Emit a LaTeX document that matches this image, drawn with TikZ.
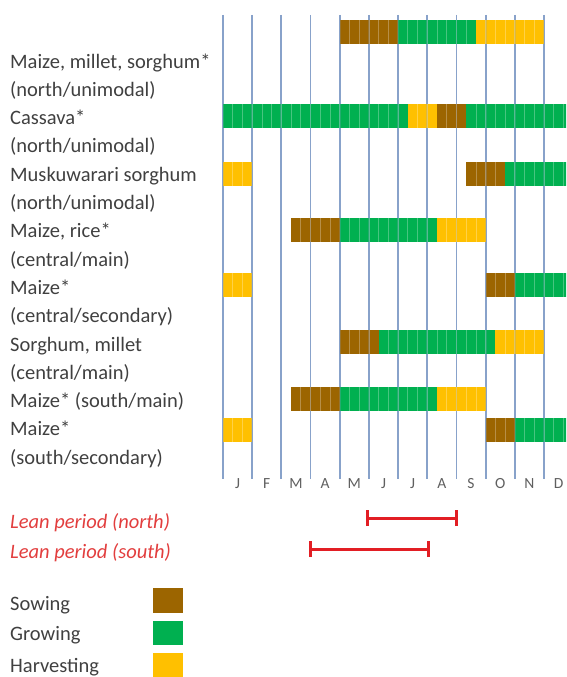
\documentclass[tikz,border=0pt]{standalone}
\usepackage{fontspec}
\setmainfont{Carlito}
\definecolor{csow}{RGB}{156,101,0}
\definecolor{cgrow}{RGB}{0,176,80}
\definecolor{charv}{RGB}{255,192,0}
\definecolor{gridb}{RGB}{136,162,202}
\definecolor{txt}{RGB}{64,64,64}
\definecolor{mon}{RGB}{95,95,95}
\definecolor{leanred}{RGB}{226,30,36}
\definecolor{leantxt}{RGB}{226,62,62}
\newcommand{\dkw}{9.727}
\newcommand{\xorg}{223}
\newcommand{\cropseg}[4]{%
  \fill[fill=#4] ({\xorg+\dkw*#2},#1) rectangle ({\xorg+\dkw*#3},{#1+24});
  \pgfmathtruncatemacro\ka{#2+1}%
  \pgfmathtruncatemacro\kb{#3-1}%
  \foreach \k in {\ka,...,\kb}{\draw[white,opacity=0.28,line width=0.7] ({\xorg+\dkw*\k},#1) -- ({\xorg+\dkw*\k},{#1+24});}%
}
\tikzset{
  lbl/.style={anchor=base west, inner sep=0pt, text=txt, font=\fontsize{20.5}{24}\selectfont},
  mlbl/.style={anchor=base, inner sep=0pt, text=mon, font=\fontsize{15.5}{18}\selectfont},
  leanlbl/.style={anchor=base west, inner sep=0pt, text=leantxt, font=\fontsize{20.5}{24}\selectfont\itshape},
  gridline/.style={draw=gridb, line width=1.8},
  leanbar/.style={draw=leanred, line width=3},
  legbox/.style={minimum width=30pt, minimum height=24.5pt, inner sep=0pt, draw=none},
}
\begin{document}
\begin{tikzpicture}[x=1pt,y=-1pt]
\useasboundingbox (0,0) rectangle (566,677);
\clip (0,0) rectangle (566,677);
% month grid lines
\foreach \m in {0,...,11}{\draw[gridline] ({\xorg+29.18*\m},15) -- ({\xorg+29.18*\m},479);}
% bars
\cropseg{20}{12}{18}{csow}\cropseg{20}{18}{26}{cgrow}\cropseg{20}{26}{33}{charv}
\cropseg{104}{0}{19}{cgrow}\cropseg{104}{19}{22}{charv}\cropseg{104}{22}{25}{csow}\cropseg{104}{25}{37}{cgrow}
\cropseg{162}{0}{3}{charv}\cropseg{162}{25}{29}{csow}\cropseg{162}{29}{37}{cgrow}
\cropseg{218}{7}{12}{csow}\cropseg{218}{12}{22}{cgrow}\cropseg{218}{22}{27}{charv}
\cropseg{273}{0}{3}{charv}\cropseg{273}{27}{30}{csow}\cropseg{273}{30}{37}{cgrow}
\cropseg{330}{12}{16}{csow}\cropseg{330}{16}{28}{cgrow}\cropseg{330}{28}{33}{charv}
\cropseg{387}{7}{12}{csow}\cropseg{387}{12}{22}{cgrow}\cropseg{387}{22}{27}{charv}
\cropseg{418}{0}{3}{charv}\cropseg{418}{27}{30}{csow}\cropseg{418}{30}{37}{cgrow}
% faint grid over bars
\foreach \m in {0,...,11}{\draw[gridline,opacity=0.25] ({\xorg+29.18*\m},15) -- ({\xorg+29.18*\m},479);}
% month labels
\foreach \lab [count=\i from 0] in {J,F,M,A,M,J,J,A,S,O,N,D}{
  \node[mlbl] (m\i) at ({\xorg+29.18*(\i+0.5)},488) {\lab};}
% row labels
\node[lbl] (l1) at (10,68) {Maize, millet, sorghum*};
\node[lbl] (l2) at (10,96.3) {(north/unimodal)};
\node[lbl] (l3) at (10,124.6) {Cassava*};
\node[lbl] (l4) at (10,152.9) {(north/unimodal)};
\node[lbl] (l5) at (10,181.2) {Muskuwarari sorghum};
\node[lbl] (l6) at (10,209.5) {(north/unimodal)};
\node[lbl] (l7) at (10,237.8) {Maize, rice*};
\node[lbl] (l8) at (10,266.1) {(central/main)};
\node[lbl] (l9) at (10,294.4) {Maize*};
\node[lbl] (l10) at (10,322.7) {(central/secondary)};
\node[lbl] (l11) at (10,351) {Sorghum, millet};
\node[lbl] (l12) at (10,379.3) {(central/main)};
\node[lbl] (l13) at (10,407.6) {Maize* (south/main)};
\node[lbl] (l14) at (10,435.9) {Maize*};
\node[lbl] (l15) at (10,464.2) {(south/secondary)};
% lean periods
\node[leanlbl] (ln) at (10,528) {Lean period (north)};
\node[leanlbl] (ls) at (10,558) {Lean period (south)};
\coordinate (n1) at (367,518); \coordinate (n2) at (456,518);
\coordinate (s1) at (310,549); \coordinate (s2) at (428,549);
\draw[leanbar] (n1) -- (n2);
\draw[leanbar] ([yshift=-8pt]n1) -- ([yshift=8pt]n1);
\draw[leanbar] ([yshift=-8pt]n2) -- ([yshift=8pt]n2);
\draw[leanbar] (s1) -- (s2);
\draw[leanbar] ([yshift=-8pt]s1) -- ([yshift=8pt]s1);
\draw[leanbar] ([yshift=-8pt]s2) -- ([yshift=8pt]s2);
% legend
\node[lbl] (t1) at (10,610) {Sowing};
\node[lbl] (t2) at (10,640) {Growing};
\node[lbl] (t3) at (10,672) {Harvesting};
\node[legbox, fill=csow] (b1) at (168,600.5) {};
\node[legbox, fill=cgrow] (b2) at (168,633) {};
\node[legbox, fill=charv] (b3) at (168,665) {};
\end{tikzpicture}
\end{document}
